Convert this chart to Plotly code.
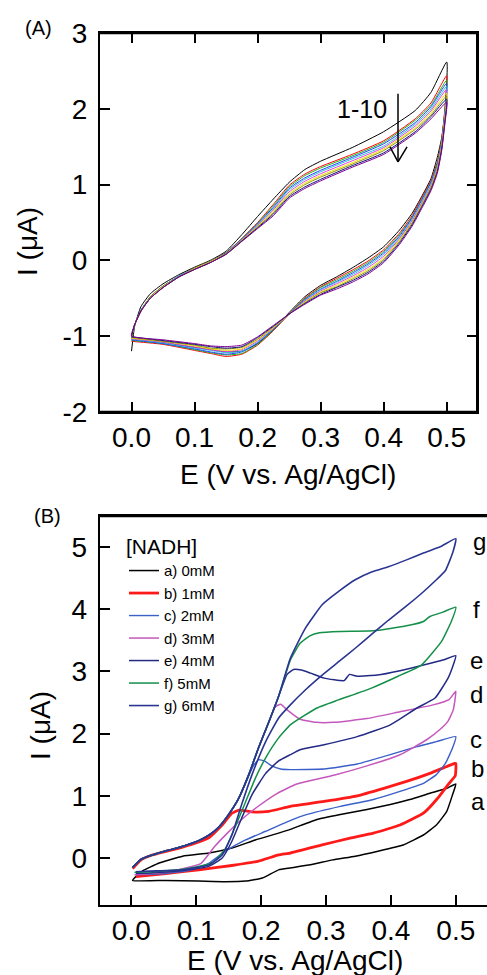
import plotly.graph_objects as go

# ---- panel A: ten successive CV cycles (potential grid shared by all cycles)
E_A = [0.0, 0.005, 0.015, 0.03, 0.05, 0.075, 0.1, 0.125, 0.15, 0.175, 0.2, 0.225, 0.25, 0.275,
       0.3, 0.35, 0.4, 0.45, 0.475,
       0.5, 0.497, 0.492, 0.485, 0.475, 0.46, 0.445, 0.425, 0.4, 0.375, 0.35, 0.325, 0.3, 0.275,
       0.25, 0.225, 0.2, 0.175, 0.15, 0.125, 0.1, 0.05, 0.0]

I_cycle1 = [-1.20, -0.87, -0.61, -0.44, -0.31, -0.19, -0.09, 0.00, 0.12, 0.34, 0.58, 0.81, 1.03, 1.20,
            1.31, 1.49, 1.70, 1.98, 2.22,
            2.62, 1.95, 1.62, 1.36, 1.08, 0.84, 0.62, 0.40, 0.18, 0.03, -0.10, -0.22, -0.33, -0.48,
            -0.69, -0.92, -1.10, -1.20, -1.21, -1.18, -1.15, -1.09, -1.04]
I_cycle2 = [-1.03, -0.85, -0.66, -0.48, -0.34, -0.21, -0.10, -0.01, 0.10, 0.29, 0.50, 0.74, 0.99, 1.14,
            1.24, 1.40, 1.58, 1.87, 2.08,
            2.44, 2.00, 1.60, 1.30, 1.06, 0.82, 0.59, 0.36, 0.14, -0.01, -0.13, -0.24, -0.35, -0.50,
            -0.71, -0.93, -1.12, -1.24, -1.27, -1.23, -1.19, -1.11, -1.07]
I_cycle3 = [-1.03, -0.85, -0.66, -0.48, -0.34, -0.21, -0.10, -0.01, 0.10, 0.285, 0.49, 0.72, 0.97, 1.12,
            1.22, 1.38, 1.56, 1.85, 2.05,
            2.38, 1.98, 1.58, 1.28, 1.04, 0.80, 0.57, 0.34, 0.12, -0.03, -0.15, -0.26, -0.36, -0.51,
            -0.71, -0.92, -1.11, -1.23, -1.25, -1.22, -1.18, -1.10, -1.06]
I_cycle4 = [-1.02, -0.85, -0.66, -0.49, -0.35, -0.21, -0.11, -0.02, 0.10, 0.28, 0.48, 0.70, 0.95, 1.09,
            1.19, 1.36, 1.54, 1.82, 2.03,
            2.34, 1.95, 1.56, 1.26, 1.03, 0.79, 0.56, 0.32, 0.10, -0.05, -0.17, -0.28, -0.38, -0.52,
            -0.71, -0.91, -1.09, -1.21, -1.24, -1.21, -1.17, -1.10, -1.05]
I_cycle5 = [-1.02, -0.85, -0.66, -0.49, -0.35, -0.21, -0.11, -0.02, 0.09, 0.275, 0.47, 0.68, 0.93, 1.07,
            1.17, 1.34, 1.51, 1.80, 2.00,
            2.30, 1.93, 1.54, 1.24, 1.01, 0.77, 0.54, 0.30, 0.08, -0.07, -0.19, -0.29, -0.39, -0.53,
            -0.71, -0.90, -1.08, -1.20, -1.22, -1.19, -1.16, -1.09, -1.04]
I_cycle6 = [-1.01, -0.85, -0.67, -0.49, -0.35, -0.22, -0.11, -0.02, 0.09, 0.27, 0.46, 0.665, 0.905, 1.045,
            1.145, 1.315, 1.49, 1.775, 1.975,
            2.26, 1.90, 1.525, 1.225, 0.99, 0.75, 0.52, 0.285, 0.055, -0.095, -0.21, -0.31, -0.405, -0.54,
            -0.71, -0.895, -1.065, -1.18, -1.205, -1.18, -1.145, -1.08, -1.035]
I_cycle7 = [-1.01, -0.85, -0.67, -0.49, -0.35, -0.22, -0.11, -0.02, 0.09, 0.265, 0.45, 0.65, 0.88, 1.02,
            1.12, 1.29, 1.47, 1.75, 1.95,
            2.21, 1.88, 1.51, 1.21, 0.97, 0.73, 0.50, 0.27, 0.03, -0.12, -0.23, -0.33, -0.42, -0.55,
            -0.71, -0.89, -1.05, -1.17, -1.19, -1.17, -1.13, -1.07, -1.03]
I_cycle8 = [-1.01, -0.85, -0.67, -0.50, -0.36, -0.22, -0.12, -0.03, 0.09, 0.26, 0.44, 0.63, 0.86, 1.00,
            1.10, 1.27, 1.45, 1.73, 1.92,
            2.17, 1.85, 1.49, 1.19, 0.96, 0.72, 0.49, 0.25, 0.01, -0.14, -0.25, -0.35, -0.43, -0.56,
            -0.71, -0.88, -1.04, -1.15, -1.17, -1.16, -1.12, -1.07, -1.02]
I_cycle9 = [-1.00, -0.85, -0.67, -0.50, -0.36, -0.22, -0.12, -0.03, 0.08, 0.255, 0.43, 0.61, 0.84, 0.97,
            1.07, 1.25, 1.42, 1.70, 1.90,
            2.13, 1.83, 1.47, 1.17, 0.94, 0.70, 0.47, 0.23, -0.01, -0.16, -0.27, -0.36, -0.45, -0.57,
            -0.71, -0.87, -1.02, -1.14, -1.16, -1.14, -1.11, -1.06, -1.01]
I_cycle10 = [-1.00, -0.85, -0.67, -0.50, -0.36, -0.22, -0.12, -0.03, 0.08, 0.25, 0.42, 0.59, 0.82, 0.95,
             1.05, 1.23, 1.40, 1.68, 1.87,
             2.09, 1.80, 1.45, 1.15, 0.92, 0.68, 0.45, 0.21, -0.03, -0.18, -0.29, -0.38, -0.46, -0.58,
             -0.71, -0.86, -1.01, -1.12, -1.14, -1.13, -1.10, -1.05, -1.00]

cycles = [I_cycle1, I_cycle2, I_cycle3, I_cycle4, I_cycle5,
          I_cycle6, I_cycle7, I_cycle8, I_cycle9, I_cycle10]
cycle_colors = ['#000000', '#ff0000', '#22b022', '#2040ff', '#30c0e0',
                '#e040e0', '#f0e000', '#909000', '#101080', '#800090']

# ---- panel B: CVs at increasing NADH concentration
E_a = [0.002, 0.017, 0.043, 0.079, 0.12, 0.155, 0.191, 0.227, 0.245, 0.286, 0.322, 0.363, 0.399,
       0.429, 0.46, 0.486, 0.5, 0.495, 0.486, 0.47, 0.45, 0.419, 0.38, 0.345, 0.31, 0.276, 0.245,
       0.227, 0.202, 0.176, 0.145, 0.104, 0.053, 0.002]
I_a = [-0.36, -0.21, -0.08, 0.03, 0.08, 0.16, 0.29, 0.40, 0.46, 0.62, 0.70, 0.78, 0.86,
       0.94, 1.04, 1.12, 1.19, 1.02, 0.75, 0.53, 0.37, 0.21, 0.11, 0.03, -0.03, -0.11, -0.16,
       -0.19, -0.32, -0.37, -0.38, -0.37, -0.36, -0.36]

E_b = [0.002, 0.015, 0.03, 0.055, 0.08, 0.104, 0.12, 0.14, 0.155, 0.166, 0.186, 0.212, 0.245, 0.297,
       0.348, 0.389, 0.424, 0.46, 0.486, 0.498, 0.5, 0.499, 0.488, 0.472, 0.45, 0.414, 0.373, 0.337,
       0.294, 0.245, 0.227, 0.196, 0.155, 0.104, 0.053, 0.007]
I_b = [-0.17, -0.03, 0.04, 0.11, 0.18, 0.26, 0.33, 0.53, 0.72, 0.77, 0.74, 0.75, 0.83, 0.91,
       1.00, 1.12, 1.23, 1.36, 1.47, 1.52, 1.52, 1.32, 1.18, 0.96, 0.72, 0.53, 0.40, 0.32,
       0.21, 0.08, 0.05, -0.05, -0.12, -0.19, -0.25, -0.30]

E_c = [0.002, 0.015, 0.03, 0.055, 0.08, 0.104, 0.12, 0.135, 0.15, 0.165, 0.178, 0.188, 0.196, 0.205,
       0.215, 0.23, 0.245, 0.297, 0.348, 0.399, 0.44, 0.47, 0.5, 0.495, 0.484, 0.47, 0.45, 0.414,
       0.373, 0.322, 0.271, 0.242, 0.207, 0.176, 0.145, 0.12, 0.094, 0.053, 0.007]
I_c = [-0.15, -0.02, 0.04, 0.12, 0.19, 0.28, 0.37, 0.50, 0.70, 0.95, 1.25, 1.48, 1.58, 1.56,
       1.49, 1.43, 1.42, 1.43, 1.51, 1.66, 1.79, 1.87, 1.95, 1.77, 1.52, 1.34, 1.20, 1.07,
       0.94, 0.83, 0.70, 0.59, 0.43, 0.29, 0.11, -0.08, -0.19, -0.25, -0.27]

E_d = [0.002, 0.015, 0.03, 0.055, 0.08, 0.104, 0.12, 0.135, 0.15, 0.165, 0.181, 0.196, 0.212,
       0.222, 0.23, 0.24, 0.26, 0.285, 0.312, 0.363, 0.414, 0.465, 0.49, 0.5,
       0.496, 0.488, 0.475, 0.455, 0.414, 0.363, 0.312, 0.255, 0.225, 0.194, 0.169, 0.148, 0.128,
       0.107, 0.056, 0.005]
I_d = [-0.15, -0.02, 0.04, 0.12, 0.19, 0.28, 0.37, 0.50, 0.70, 0.95, 1.34, 1.77, 2.19,
       2.43, 2.47, 2.38, 2.23, 2.18, 2.18, 2.24, 2.35, 2.46, 2.55, 2.68,
       2.38, 2.20, 2.06, 1.90, 1.66, 1.48, 1.33, 1.19, 1.04, 0.82, 0.61, 0.40, 0.18,
       -0.09, -0.22, -0.27]

E_e = [0.002, 0.015, 0.03, 0.055, 0.08, 0.104, 0.12, 0.135, 0.15, 0.165, 0.181, 0.196, 0.212,
       0.227, 0.24, 0.25, 0.262, 0.276, 0.297, 0.328, 0.336, 0.348, 0.379, 0.414, 0.45, 0.48, 0.5,
       0.496, 0.488, 0.468, 0.44, 0.399, 0.348, 0.297, 0.26, 0.245, 0.227, 0.207, 0.186, 0.17,
       0.155, 0.14, 0.12, 0.079, 0.028, 0.007]
I_e = [-0.15, -0.02, 0.04, 0.12, 0.19, 0.28, 0.37, 0.50, 0.70, 0.95, 1.34, 1.77, 2.19,
       2.60, 2.95, 3.03, 3.02, 2.97, 2.89, 2.85, 2.95, 2.92, 2.94, 3.01, 3.10, 3.18, 3.25,
       3.10, 2.89, 2.57, 2.41, 2.14, 1.95, 1.82, 1.74, 1.66, 1.56, 1.36, 1.02, 0.64,
       0.27, 0.00, -0.13, -0.20, -0.24, -0.25]

E_f = [0.002, 0.015, 0.03, 0.055, 0.08, 0.104, 0.12, 0.135, 0.15, 0.165, 0.181, 0.196, 0.212,
       0.227, 0.245, 0.26, 0.275, 0.29, 0.322, 0.373, 0.424, 0.45, 0.46, 0.48, 0.5,
       0.493, 0.478, 0.447, 0.411, 0.37, 0.319, 0.286, 0.245, 0.227, 0.207, 0.191, 0.176, 0.16,
       0.145, 0.125, 0.08, 0.03, 0.005]
I_f = [-0.15, -0.02, 0.04, 0.12, 0.19, 0.28, 0.37, 0.50, 0.70, 0.95, 1.34, 1.77, 2.19,
       2.60, 3.18, 3.45, 3.57, 3.62, 3.64, 3.65, 3.73, 3.80, 3.88, 3.95, 4.03,
       3.80, 3.48, 3.10, 2.92, 2.73, 2.54, 2.41, 2.14, 1.93, 1.61, 1.28, 0.90, 0.50,
       0.15, -0.08, -0.18, -0.22, -0.23]

E_g = [0.002, 0.015, 0.03, 0.055, 0.08, 0.104, 0.12, 0.135, 0.15, 0.165, 0.181, 0.196, 0.212,
       0.227, 0.245, 0.268, 0.294, 0.319, 0.345, 0.371, 0.396, 0.424, 0.45, 0.476, 0.5,
       0.495, 0.484, 0.468, 0.447, 0.424, 0.396, 0.371, 0.345, 0.319, 0.294, 0.268, 0.245,
       0.227, 0.207, 0.186, 0.17, 0.155, 0.14, 0.12, 0.079, 0.028, 0.007]
I_g = [-0.15, -0.02, 0.04, 0.12, 0.19, 0.28, 0.37, 0.50, 0.70, 0.95, 1.34, 1.77, 2.19,
       2.60, 3.21, 3.69, 4.07, 4.28, 4.47, 4.60, 4.68, 4.79, 4.90, 5.00, 5.13,
       4.90, 4.62, 4.45, 4.25, 4.05, 3.82, 3.60, 3.37, 3.15, 2.94, 2.70, 2.46,
       2.25, 1.87, 1.34, 0.86, 0.37, 0.05, -0.11, -0.19, -0.21, -0.22]

nadh_names = ['a) 0mM', 'b) 1mM', 'c) 2mM', 'd) 3mM', 'e) 4mM', 'f) 5mM', 'g) 6mM']
nadh_E = [E_a, E_b, E_c, E_d, E_e, E_f, E_g]
nadh_I = [I_a, I_b, I_c, I_d, I_e, I_f, I_g]
nadh_colors = ['#000000', '#ff1a1a', '#3a5fc8', '#c458bc', '#232a85', '#14904a', '#2a3592']
nadh_widths = [1.5, 2.8, 1.4, 1.5, 1.5, 1.5, 1.6]

# curve letters at the right end of panel B
tag_text = ['g', 'f', 'e', 'd', 'c', 'b', 'a']
tag_x = [0.524, 0.524, 0.519, 0.519, 0.519, 0.521, 0.521]
tag_y = [5.08, 3.99, 3.18, 2.62, 1.90, 1.44, 0.91]

# tick positions (major ticks labelled, minor ticks bare)
xticks = [0.0, 0.1, 0.2, 0.3, 0.4, 0.5]
xticks_text = ['0.0', '0.1', '0.2', '0.3', '0.4', '0.5']
xminor = [0.05, 0.15, 0.25, 0.35, 0.45]
yticks_A = [-2, -1, 0, 1, 2, 3]
yticks_A_text = ['-2', '-1', '0', '1', '2', '3']
yminor_A = [-1.5, -0.5, 0.5, 1.5, 2.5]
yticks_B = [0, 1, 2, 3, 4, 5]
yminor_B = [-0.5, 0.5, 1.5, 2.5, 3.5, 4.5]

FONT = 'Liberation Sans, Arial, sans-serif'
W, H = 487, 975

fig = go.Figure()

for i, cyc in enumerate(cycles):
    fig.add_trace(go.Scatter(x=E_A, y=cyc, mode='lines', xaxis='x', yaxis='y',
                             line=dict(color=cycle_colors[i], width=1.0, shape='spline', smoothing=0.5),
                             showlegend=False, name='cycle %d' % (i + 1)))

for name, ex, iy, col, lw in zip(nadh_names, nadh_E, nadh_I, nadh_colors, nadh_widths):
    fig.add_trace(go.Scatter(x=ex, y=iy, mode='lines', xaxis='x2', yaxis='y2', name=name,
                             line=dict(color=col, width=lw, shape='spline', smoothing=0.4)))

major = dict(showline=True, linewidth=2, linecolor='black', ticks='inside', ticklen=10,
             tickwidth=2, tickcolor='black', showgrid=False, zeroline=False, automargin=False,
             tickmode='array', tickfont=dict(family=FONT, size=28, color='black'))
# bare axes laid over the main ones, only to carry the short minor ticks
minor = dict(showline=False, ticks='inside', ticklen=5, tickwidth=2, tickcolor='black',
             showgrid=False, zeroline=False, automargin=False, showticklabels=False,
             tickmode='array')

ax_a = dict(l=100, r=477, t=33.3, b=411.7)
ax_b = dict(l=99.7, r=487, t=516.3, b=904.7)
dom_xa = [ax_a['l'] / W, ax_a['r'] / W]
dom_ya = [1 - ax_a['b'] / H, 1 - ax_a['t'] / H]
dom_xb = [ax_b['l'] / W, ax_b['r'] / W]
dom_yb = [1 - ax_b['b'] / H, 1 - ax_b['t'] / H]
rng_xa, rng_ya = [-0.05, 0.548], [-2, 3]
rng_xb, rng_yb = [-0.0487, 0.548], [-0.75, 5.49]

fig.update_layout(
    width=W, height=H, autosize=False,
    margin=dict(l=0, r=0, t=0, b=0, pad=0),
    paper_bgcolor='white', plot_bgcolor='white',
    font=dict(family=FONT, color='black'),
    xaxis=dict(major, domain=dom_xa, anchor='y', range=rng_xa, tickvals=xticks, ticktext=xticks_text,
               mirror='ticks', ticklabelstandoff=0),
    yaxis=dict(major, domain=dom_ya, anchor='x', range=rng_ya, tickvals=yticks_A,
               ticktext=yticks_A_text, mirror='ticks', ticklabelstandoff=5),
    xaxis2=dict(major, domain=dom_xb, anchor='y2', range=rng_xb, tickvals=xticks, ticktext=xticks_text,
                mirror=True, ticklabelstandoff=0),
    yaxis2=dict(major, domain=dom_yb, anchor='x2', range=rng_yb, tickvals=yticks_B,
                mirror=False, ticklabelstandoff=5),
    xaxis3=dict(minor, domain=dom_xa, anchor='y', overlaying='x', range=rng_xa, tickvals=xminor,
                mirror='ticks'),
    yaxis3=dict(minor, domain=dom_ya, anchor='x', overlaying='y', range=rng_ya, tickvals=yminor_A,
                mirror='ticks'),
    xaxis4=dict(minor, domain=dom_xb, anchor='y2', overlaying='x2', range=rng_xb, tickvals=xminor),
    yaxis4=dict(minor, domain=dom_yb, anchor='x2', overlaying='y2', range=rng_yb, tickvals=yminor_B),
    legend=dict(x=124 / W, y=1 - 527 / H, xanchor='left', yanchor='top',
                bgcolor='rgba(0,0,0,0)', borderwidth=0, tracegroupgap=0,
                font=dict(family=FONT, size=15, color='black'),
                title=dict(text='[NADH]', font=dict(family=FONT, size=21, color='black'))),
)

ann = []
# panel letters
ann.append(dict(text='(A)', x=38 / W, y=1 - 27.5 / H, font=dict(size=20)))
ann.append(dict(text='(B)', x=47.5 / W, y=1 - 516 / H, font=dict(size=20)))
# axis titles
for cx, cy in [(288, 474), (295, 960)]:
    ann.append(dict(text='E (V vs. Ag/AgCl)', x=cx / W, y=1 - cy / H, font=dict(size=28)))
for cx, cy in [(28, 242), (40, 726)]:
    ann.append(dict(text='I (μA)', x=cx / W, y=1 - cy / H, textangle=-90, font=dict(size=28)))
for a in ann:
    a.update(xref='paper', yref='paper', xanchor='center', yanchor='middle', showarrow=False)
# cycle label
ann.append(dict(text='1-10', x=0.365, y=2.0, xref='x', yref='y', showarrow=False,
                xanchor='center', yanchor='middle', font=dict(size=25)))
# curve letters
for t, tx, ty in zip(tag_text, tag_x, tag_y):
    ann.append(dict(text=t, x=tx, y=ty, xref='x2', yref='y2', xanchor='left', yanchor='middle',
                    showarrow=False, font=dict(size=24)))
fig.update_layout(annotations=ann)

# closed frame round panel A and the top edge of panel B, in paper units
frame = dict(type='line', xref='paper', yref='paper', layer='above',
             line=dict(color='black', width=2))
fig.add_shape(frame, x0=dom_xa[0], x1=dom_xa[1], y0=dom_ya[1], y1=dom_ya[1])
fig.add_shape(frame, x0=dom_xa[0], x1=dom_xa[1], y0=dom_ya[0], y1=dom_ya[0])
fig.add_shape(frame, x0=dom_xa[1], x1=dom_xa[1], y0=dom_ya[0], y1=dom_ya[1])
fig.add_shape(frame, x0=dom_xb[0], x1=dom_xb[1], y0=dom_yb[1], y1=dom_yb[1])

# arrow showing the decrease over cycles 1-10
arrow = dict(type='line', xref='x', yref='y', line=dict(color='black', width=1.5))
fig.add_shape(arrow, x0=0.4227, y0=2.20, x1=0.4227, y1=1.31)
fig.add_shape(arrow, x0=0.410, y0=1.50, x1=0.4227, y1=1.30)
fig.add_shape(arrow, x0=0.437, y0=1.50, x1=0.4227, y1=1.30)

# the page's default body margin would shift the figure by 8 px
fig.write_html("out.html", config={'displayModeBar': False},
               post_script="document.body.style.margin = '0px';")
